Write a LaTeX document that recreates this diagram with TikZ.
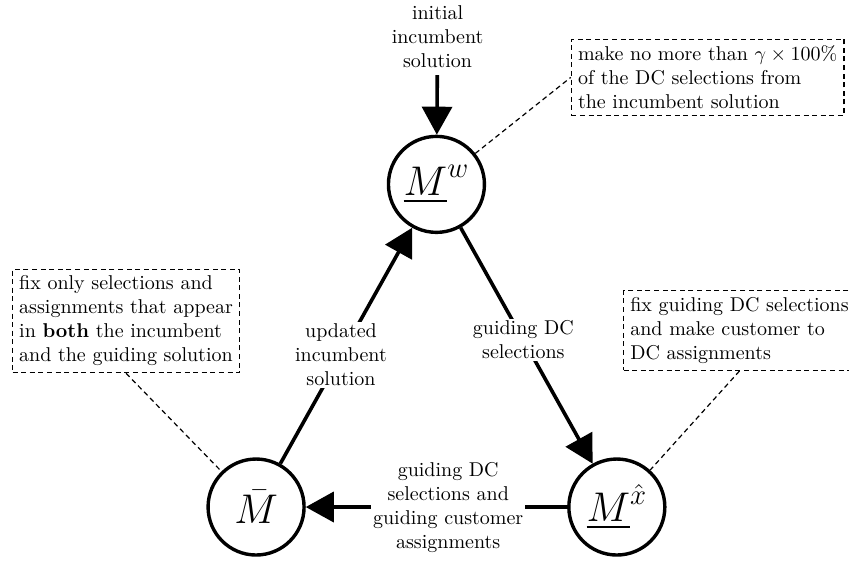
\documentclass[tikz,border=0pt]{standalone}
\usepackage{amsmath, amssymb}
\usetikzlibrary{arrows.meta, positioning}
\tikzset{
model/.style={circle, draw, line width=1.7pt, minimum size=48pt, inner sep=0pt, font=\huge},
flow/.style={-{Triangle[length=14pt, width=15pt]}, line width=1.8pt},
lbl/.style={fill=white, align=center, inner sep=1pt},
note/.style={draw, semithick, dash pattern=on 2.5pt off 1.8pt, align=left, anchor=west},
link/.style={semithick, dash pattern=on 2.5pt off 1.8pt},
}

\begin{document}
\begin{tikzpicture}
    \useasboundingbox (0,0) rectangle (14.92,-9.86);

    \node[model] (Mw) at (7.67,-3.24) {$\underline{M}^{w}$};
    \node[model] (Mbar) at (4.50,-8.91) {$\bar{M}$};
    \node[model] (Mx) at (10.84,-8.91) {$\underline{M}^{\hat{x}}$};
    \node[align=center] (init) at (7.69,-0.65) {initial\\incumbent\\solution};

    \node[note] (noteW) at (10.03,-1.36) {make no more than $\gamma \times 100\%$\\of the DC selections from\\the incumbent solution};
    \node[note] (noteB) at (0.21,-5.64) {fix only selections and\\assignments that appear\\in \textbf{both} the incumbent\\and the guiding solution};
    \node[note] (noteX) at (10.95,-5.81) {fix guiding DC selections\\and make customer to\\DC assignments};

    \draw[flow] (init) -- (Mw);
    \draw[flow] (Mw) -- node[lbl, pos=0.475]{guiding DC\\selections} (Mx);
    \draw[flow] (Mx) -- node[lbl, pos=0.455]{guiding DC\\selections and\\guiding customer\\assignments} (Mbar);
    \draw[flow] (Mbar) -- node[lbl, pos=0.46]{updated\\incumbent\\solution} (Mw);

    \draw[link] (Mw) -- (noteW.west);
    \draw[link] (noteB.south) -- (Mbar);
    \draw[link] (noteX.south) -- (Mx);
\end{tikzpicture}
\end{document}
